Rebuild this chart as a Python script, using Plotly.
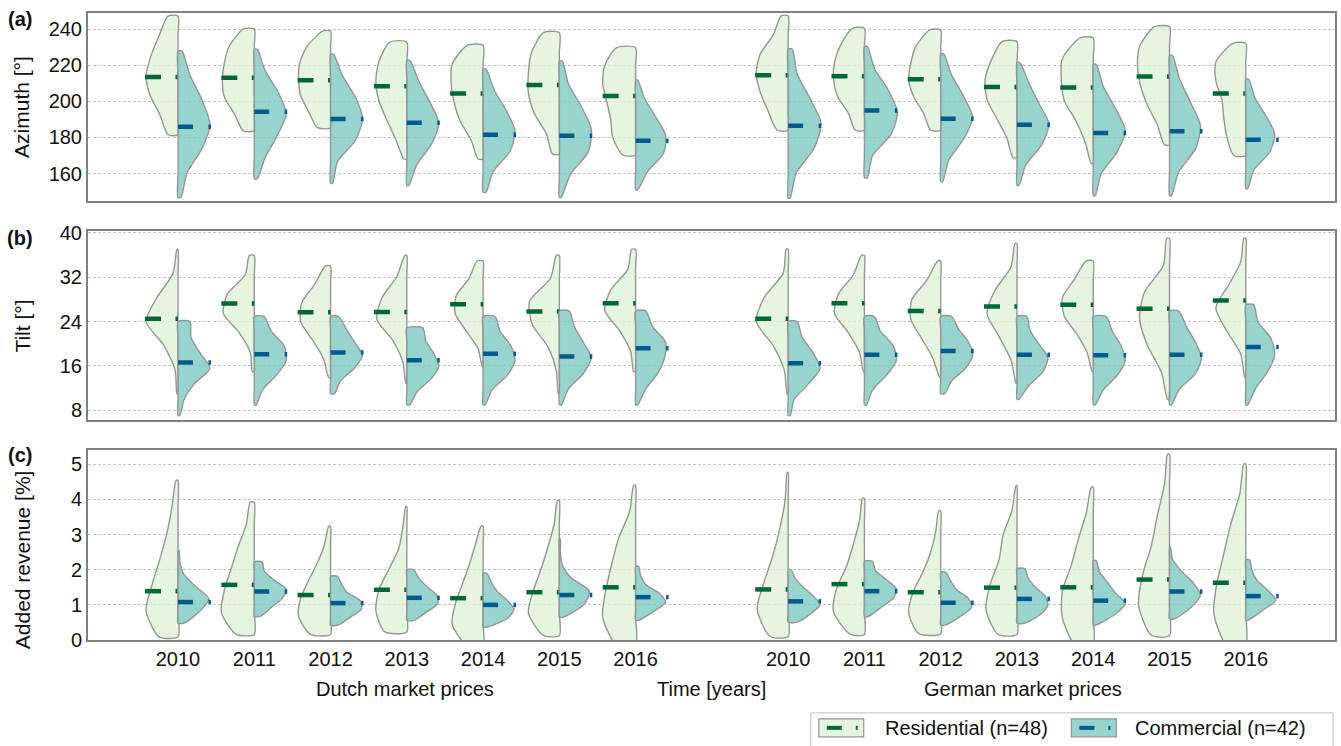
import plotly.graph_objects as go
from plotly.subplots import make_subplots

# ---------------- data ----------------
YEARS = ["2010", "2011", "2012", "2013", "2014", "2015", "2016"]
MARKETS = ["Dutch market prices", "German market prices"]
# category slots: Dutch years 0..6, gap, German years 8..14
POSITIONS = [0, 1, 2, 3, 4, 5, 6, 8, 9, 10, 11, 12, 13, 14]
TICK_LABELS = YEARS + YEARS

# Each violin: min, max, median and a relative density profile read at 7 evenly
# spaced levels between min and max (Dutch 2010..2016 then German 2010..2016).

# (a) Azimuth [deg]
AZ_RES_MIN = [181.5, 183.7, 185.4, 168.1, 168.1, 170.9, 170.3, 184.0, 184.0, 184.0, 168.8, 165.7, 175.9, 170.0]
AZ_RES_MAX = [247.2, 240.0, 238.9, 232.8, 231.0, 238.0, 229.7, 247.3, 240.4, 239.5, 233.1, 235.1, 241.3, 232.1]
AZ_RES_MED = [213.5, 213.1, 211.7, 208.4, 204.3, 209.1, 202.9, 214.4, 213.9, 212.2, 208.0, 207.6, 213.7, 204.4]
AZ_RES_DENS = [
    [10, 18, 28, 32, 27, 19, 10], [11, 20, 30, 32, 30, 25, 11], [13, 22, 30, 32, 31, 24, 8],
    [3, 11, 20, 28, 31, 28, 17], [5, 12, 23, 29, 32, 31, 16], [7, 13, 25, 31, 31, 28, 16],
    [13, 23, 25, 29, 33, 31, 19],
    [11, 20, 28, 32, 28, 15, 7], [9, 16, 27, 31, 30, 24, 12], [10, 17, 27, 32, 30, 25, 11],
    [4, 10, 20, 30, 32, 26, 15], [2, 8, 17, 29, 32, 31, 13], [5, 12, 22, 29, 32, 30, 15],
    [12, 19, 22, 24, 30, 30, 13],
]
AZ_COM_MIN = [146.8, 157.1, 154.7, 153.4, 149.7, 146.9, 151.0, 146.5, 157.8, 155.6, 153.6, 147.8, 147.8, 151.8]
AZ_COM_MAX = [227.9, 228.8, 226.0, 222.7, 217.8, 222.3, 211.7, 229.0, 230.3, 226.3, 221.4, 220.5, 225.4, 212.2]
AZ_COM_MED = [186.0, 194.2, 190.2, 188.1, 181.5, 181.0, 178.2, 186.5, 194.9, 190.3, 187.0, 182.5, 183.4, 178.8]
AZ_COM_DENS = [
    [3, 9, 24, 32, 24, 12, 4], [3, 11, 23, 32, 24, 11, 3], [2, 7, 25, 32, 25, 12, 3],
    [2, 10, 25, 32, 23, 12, 3], [3, 10, 27, 32, 23, 11, 3], [2, 11, 29, 32, 22, 9, 3],
    [2, 12, 28, 30, 20, 9, 2],
    [2, 8, 26, 33, 22, 9, 4], [3, 8, 27, 33, 24, 10, 3], [2, 8, 23, 32, 23, 11, 3],
    [2, 9, 25, 32, 22, 12, 3], [2, 8, 24, 32, 22, 10, 3], [2, 9, 26, 31, 21, 10, 3],
    [2, 8, 24, 29, 20, 9, 3],
]

# (b) Tilt [deg]
TI_RES_MIN = [11.0, 15.0, 13.95, 12.9, 16.0, 11.0, 15.0, 11.0, 15.0, 13.95, 12.9, 15.0, 10.0, 13.95]
TI_RES_MAX = [37.0, 35.9, 34.0, 35.9, 34.9, 35.9, 37.0, 37.0, 35.9, 34.9, 38.0, 34.9, 38.95, 38.95]
TI_RES_MED = [24.5, 27.25, 25.65, 25.7, 27.1, 25.8, 27.3, 24.5, 27.3, 25.9, 26.7, 27.0, 26.3, 27.8]
TI_RES_DENS = [
    [1, 3, 14, 32, 21, 5, 1], [2, 4, 15, 31, 27, 9, 5], [2, 7, 18, 30, 29, 16, 5],
    [1, 4, 14, 30, 25, 10, 2], [1, 5, 17, 28, 27, 14, 6], [1, 3, 11, 27, 30, 9, 3],
    [2, 5, 16, 31, 25, 8, 4],
    [1, 4, 15, 32, 24, 5, 2], [1, 5, 16, 30, 26, 11, 3], [1, 8, 19, 30, 29, 14, 3],
    [1, 6, 18, 30, 22, 6, 2], [1, 6, 16, 29, 31, 19, 7], [2, 8, 22, 30, 25, 6, 3],
    [1, 5, 19, 30, 17, 5, 2],
]
TI_COM_MIN = [7.1, 9.0, 11.0, 9.0, 9.0, 9.0, 9.0, 7.1, 9.0, 11.0, 10.0, 9.0, 9.0, 9.0]
TI_COM_MAX = [24.0, 24.9, 24.9, 22.85, 24.9, 25.9, 25.9, 24.0, 24.9, 24.9, 24.9, 24.9, 25.9, 27.0]
TI_COM_MED = [16.6, 18.1, 18.4, 17.0, 18.2, 17.7, 19.2, 16.5, 18.0, 18.7, 18.0, 17.9, 18.0, 19.4]
TI_COM_DENS = [
    [2, 6, 16, 32, 22, 13, 12], [2, 8, 22, 32, 30, 17, 10], [4, 10, 24, 32, 24, 16, 8],
    [3, 10, 24, 32, 27, 19, 16], [2, 9, 24, 32, 28, 17, 12], [2, 9, 24, 32, 24, 15, 10],
    [2, 10, 22, 29, 30, 17, 10],
    [2, 6, 20, 32, 25, 14, 9], [2, 8, 22, 32, 29, 16, 10], [4, 11, 25, 32, 28, 18, 11],
    [2, 12, 26, 31, 22, 13, 10], [2, 10, 24, 32, 28, 19, 13], [2, 10, 26, 32, 26, 17, 9],
    [2, 10, 22, 29, 25, 12, 8],
]

# (c) Added revenue [%]
RV_RES_MIN = [0.09, 0.16, 0.16, 0.23, -0.1, 0.13, -0.1, 0.10, 0.16, 0.18, 0.16, -0.1, 0.13, -0.1]
RV_RES_MAX = [4.54, 3.92, 3.23, 3.80, 3.24, 3.97, 4.40, 4.77, 4.03, 3.67, 4.39, 4.35, 5.29, 5.01]
RV_RES_MED = [1.39, 1.57, 1.28, 1.43, 1.19, 1.36, 1.50, 1.44, 1.59, 1.36, 1.49, 1.50, 1.72, 1.63]
RV_RES_DENS = [
    [19, 32, 26, 18, 11, 6, 2], [18, 33, 30, 23, 16, 8, 4], [20, 32, 30, 22, 13, 6, 2],
    [22, 31, 28, 18, 8, 4, 1], [18, 31, 28, 21, 14, 8, 2], [16, 31, 26, 18, 11, 5, 2],
    [20, 33, 30, 24, 17, 6, 2],
    [18, 31, 24, 15, 8, 3, 1], [14, 31, 28, 18, 11, 5, 2], [22, 32, 28, 18, 10, 5, 2],
    [19, 31, 27, 18, 14, 5, 1], [19, 31, 31, 22, 15, 7, 2], [18, 31, 27, 18, 12, 5, 2],
    [20, 32, 29, 22, 15, 6, 2],
]
RV_COM_MIN = [0.48, 0.67, 0.42, 0.56, 0.37, 0.65, 0.56, 0.51, 0.67, 0.43, 0.48, 0.43, 0.60, 0.56]
RV_COM_MAX = [2.55, 2.22, 1.81, 2.00, 1.90, 2.88, 2.09, 2.00, 2.24, 1.93, 2.03, 2.26, 2.64, 2.28]
RV_COM_MED = [1.08, 1.38, 1.05, 1.20, 1.00, 1.28, 1.22, 1.10, 1.39, 1.06, 1.17, 1.12, 1.38, 1.25]
RV_COM_DENS = [
    [6, 22, 31, 18, 6, 2, 1], [6, 17, 28, 32, 20, 10, 8], [7, 20, 31, 30, 17, 11, 7],
    [7, 20, 31, 30, 20, 12, 7], [4, 25, 31, 24, 14, 8, 4], [4, 25, 30, 12, 3, 1, 1],
    [3, 18, 30, 24, 10, 5, 3],
    [9, 23, 32, 25, 15, 7, 3], [4, 17, 29, 32, 22, 11, 8], [5, 20, 31, 28, 16, 10, 5],
    [8, 24, 31, 28, 18, 11, 8], [3, 22, 32, 22, 14, 6, 3], [5, 22, 31, 24, 12, 3, 1],
    [2, 17, 30, 22, 11, 6, 4],
]

SERIES = ["Residential (n=48)", "Commercial (n=42)"]

# ---------------- styles ----------------
FONT = "Liberation Sans, Arial, Helvetica, sans-serif"
FS = 20
RES_FILL = "rgba(222,242,216,0.8)"
COM_FILL = "rgba(124,201,192,0.8)"
RES_MED = "#006837"
COM_MED = "#045a8d"
OUTLINE = "#959595"
FRAME = "#808080"
GRID = "#c4c4c4"
UNIT = 1 / 76.4  # x-axis units per screen pixel (density scale)

fig = make_subplots(rows=3, cols=1, shared_xaxes=False)


def violins(pos_list, mins, maxs, dens, sign):
    xs, ys = [], []
    for p, lo, hi, d in zip(pos_list, mins, maxs, dens):
        n = len(d)
        lv = [lo + (hi - lo) * i / (n - 1) for i in range(n)]
        outer = [p + sign * w * UNIT for w in d]
        xs += outer + [p] * n + [outer[0], None]
        ys += lv + lv[::-1] + [lv[0], None]
    return xs, ys


def medians(pos_list, meds, sign):
    xs, ys = [], []
    for p, m in zip(pos_list, meds):
        if sign < 0:
            segs = [(p - 33 * UNIT, p - 17 * UNIT), (p - 2.5 * UNIT, p)]
        else:
            segs = [(p, p + 15 * UNIT), (p + 30.5 * UNIT, p + 33 * UNIT)]
        for a, b in segs:
            xs += [a, b, None]
            ys += [m, m, None]
    return xs, ys


PANELS = [
    (1, (AZ_RES_MIN, AZ_RES_MAX, AZ_RES_MED, AZ_RES_DENS), (AZ_COM_MIN, AZ_COM_MAX, AZ_COM_MED, AZ_COM_DENS)),
    (2, (TI_RES_MIN, TI_RES_MAX, TI_RES_MED, TI_RES_DENS), (TI_COM_MIN, TI_COM_MAX, TI_COM_MED, TI_COM_DENS)),
    (3, (RV_RES_MIN, RV_RES_MAX, RV_RES_MED, RV_RES_DENS), (RV_COM_MIN, RV_COM_MAX, RV_COM_MED, RV_COM_DENS)),
]

for row, res, com in PANELS:
    for (mn, mx, md, dn), sign, fill, mcol, nm in [(res, -1, RES_FILL, RES_MED, SERIES[0]),
                                                   (com, 1, COM_FILL, COM_MED, SERIES[1])]:
        vx, vy = violins(POSITIONS, mn, mx, dn, sign)
        fig.add_trace(go.Scatter(x=vx, y=vy, mode="lines", fill="toself", fillcolor=fill, name=nm,
                                 line=dict(color=OUTLINE, width=1.4, shape="spline", smoothing=0.7),
                                 hoverinfo="skip", showlegend=False), row=row, col=1)
        mxs, mys = medians(POSITIONS, md, sign)
        fig.add_trace(go.Scatter(x=mxs, y=mys, mode="lines", line=dict(color=mcol, width=4.5),
                                 hoverinfo="skip", showlegend=False), row=row, col=1)

# ---------------- layout ----------------
W, H = 1341, 746
L, R, T, B = 88, 4, 12, 106
PW, PH = W - L - R, H - T - B


def py(y):
    return (H - B - y) / PH


def px(x):
    return (x - L) / PW


XR = [-1.18, 15.17]
ydoms = [(py(200), py(12)), (py(420), py(230)), (py(640), py(450))]
yranges = [[145.0, 248.9], [6.2, 40.36], [0, 5.4]]
yticks = [[160, 180, 200, 220, 240], [8, 16, 24, 32, 40], [0, 1, 2, 3, 4, 5]]

for i in range(3):
    xa = "xaxis" if i == 0 else f"xaxis{i + 1}"
    ya = "yaxis" if i == 0 else f"yaxis{i + 1}"
    fig.layout[xa].update(domain=[0, 1], range=XR, showgrid=False, zeroline=False,
                          showline=True, mirror=True, linecolor=FRAME, linewidth=2,
                          ticks="", tickvals=POSITIONS,
                          ticktext=TICK_LABELS if i == 2 else [""] * len(POSITIONS),
                          showticklabels=(i == 2),
                          tickfont=dict(family=FONT, size=FS, color="#111"))
    fig.layout[ya].update(domain=list(ydoms[i]), range=yranges[i], tickvals=yticks[i],
                          showgrid=True, gridcolor=GRID, griddash="3px,2px", gridwidth=1,
                          zeroline=False, showline=True, mirror=True, linecolor=FRAME, linewidth=2,
                          ticks="", ticklen=0,
                          tickfont=dict(family=FONT, size=FS, color="#111"))

annos = []
titles = [("Azimuth [°]", 106), ("Tilt [°]", 326), ("Added revenue [%]", 560)]
for t, yc in titles:
    annos.append(dict(text=t, x=px(22), y=py(yc), xref="paper", yref="paper", textangle=-90,
                      showarrow=False, font=dict(family=FONT, size=21, color="#111"),
                      xanchor="center", yanchor="middle"))
for lab, yc in [("(a)", 18), ("(b)", 237), ("(c)", 455)]:
    annos.append(dict(text="<b>" + lab + "</b>", x=px(20), y=py(yc), xref="paper", yref="paper",
                      showarrow=False, font=dict(family=FONT, size=FS, color="#111"),
                      xanchor="center", yanchor="middle"))
for t, xc in [(MARKETS[0], 406), ("Time [years]", 713), (MARKETS[1], 1025)]:
    annos.append(dict(text=t, x=px(xc), y=py(689), xref="paper", yref="paper",
                      showarrow=False, font=dict(family=FONT, size=FS, color="#111"),
                      xanchor="center", yanchor="middle"))

# hand-drawn legend (swatch shows fill + median mark)
shapes = [dict(type="rect", xref="paper", yref="paper", x0=px(812), x1=px(1335), y0=py(752), y1=py(713),
               line=dict(color="#c0c0c0", width=1), fillcolor="white", layer="above")]
for (sx, tx), name, fill, mcol in zip([(820, 884), (1073, 1135)], SERIES, [RES_FILL, COM_FILL], [RES_MED, COM_MED]):
    shapes.append(dict(type="rect", xref="paper", yref="paper", x0=px(sx), x1=px(sx + 45),
                       y0=py(737), y1=py(719), line=dict(color=OUTLINE, width=1.2), fillcolor=fill,
                       layer="above"))
    shapes.append(dict(type="line", xref="paper", yref="paper", x0=px(sx + 8), x1=px(sx + 23),
                       y0=py(728), y1=py(728), line=dict(color=mcol, width=4), layer="above"))
    shapes.append(dict(type="line", xref="paper", yref="paper", x0=px(sx + 37), x1=px(sx + 39),
                       y0=py(728), y1=py(728), line=dict(color=mcol, width=4), layer="above"))
    annos.append(dict(text=name, x=px(tx), y=py(728), xref="paper", yref="paper",
                      showarrow=False, font=dict(family=FONT, size=FS, color="#111"),
                      xanchor="left", yanchor="middle"))

fig.update_layout(
    width=W, height=H, autosize=False,
    margin=dict(l=L, r=R, t=T, b=B),
    paper_bgcolor="white", plot_bgcolor="white",
    font=dict(family=FONT, size=FS, color="#111"),
    annotations=annos, shapes=shapes,
    showlegend=False,
)

fig.write_html("out.html", config={"displayModeBar": False},
               post_script="document.body.style.margin='0';document.body.style.padding='0';"
                           "document.body.style.overflow='hidden';")
